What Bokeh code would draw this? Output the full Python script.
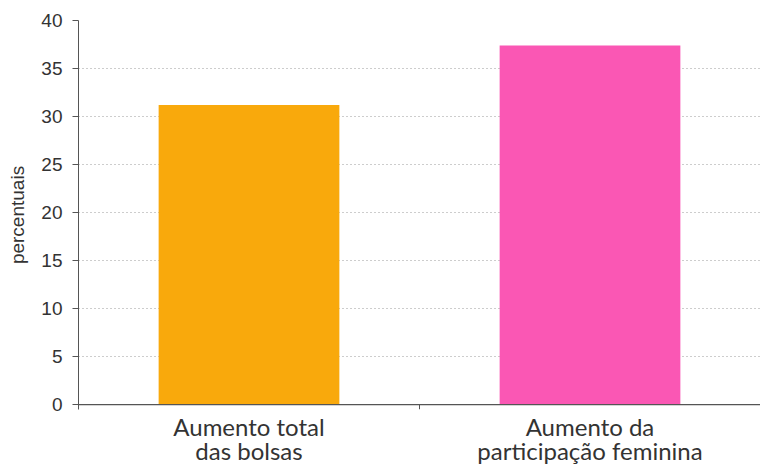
from bokeh.plotting import figure
from bokeh.models import ColumnDataSource, Range1d, Span, FixedTicker, CategoricalAxis, FactorRange
from bokeh.transform import dodge
from bokeh.embed import file_html
from bokeh.resources import INLINE

categories = ["Aumento total das bolsas", "Aumento da participação feminina"]
labels = ["Aumento total\ndas bolsas", "Aumento da\nparticipação feminina"]
values = [31.2, 37.4]
colors = ["#F9A90C", "#FA57B4"]
y_ticks = [0, 5, 10, 15, 20, 25, 30, 35, 40]

src = ColumnDataSource(dict(cat=categories, val=values, color=colors))

p = figure(x_range=categories, y_range=Range1d(-0.5, 40), width=760, height=468,
           output_backend="svg", toolbar_location=None, x_axis_location=None,
           min_border_left=78, min_border_top=20, min_border_right=0, min_border_bottom=59)
p.outline_line_color = None
p.extra_x_ranges = {"labels": FactorRange(factors=labels)}

p.vbar(x="cat", top="val", width=0.53, color="color", source=src, line_color=None)

# baseline
p.add_layout(Span(location=0, dimension="width", line_color="#555555", line_width=1.2))
# tick between categories
p.segment(x0=dodge("cat", 0.5, range=p.x_range), x1=dodge("cat", 0.5, range=p.x_range),
          y0=0, y1=-0.5, line_color="#555555", line_width=1,
          source=ColumnDataSource(dict(cat=categories[:1])))

p.xgrid.grid_line_color = None
p.ygrid.grid_line_color = "#9a9a9a"
p.ygrid.grid_line_dash = "1 3"
p.ygrid.grid_line_width = 1

p.yaxis.ticker = FixedTicker(ticks=y_ticks)
p.yaxis.axis_line_color = "#555555"
p.yaxis.major_tick_line_color = "#555555"
p.yaxis.major_tick_in = 0
p.yaxis.major_tick_out = 6
p.yaxis.minor_tick_line_color = None
p.yaxis.major_label_text_font = "Liberation Sans"
p.yaxis.major_label_text_font_size = "19px"
p.yaxis.major_label_text_color = "#333333"
p.yaxis.major_label_standoff = 10
p.yaxis.axis_label = "percentuais"
p.yaxis.axis_label_text_font = "Liberation Sans"
p.yaxis.axis_label_text_font_size = "19px"
p.yaxis.axis_label_text_font_style = "normal"
p.yaxis.axis_label_text_color = "#333333"
p.yaxis.axis_label_standoff = 10

ax = CategoricalAxis(x_range_name="labels")
ax.axis_line_color = None
ax.major_tick_line_color = None
ax.major_tick_out = 0
ax.major_tick_in = 0
ax.minor_tick_line_color = None
ax.major_label_text_font = "Lato"
ax.major_label_text_font_size = "24px"
ax.major_label_text_line_height = 0.85
ax.major_label_text_color = "#333333"
ax.major_label_standoff = 2
p.add_layout(ax, "below")

open("out.html", "w").write(file_html(p, INLINE))
